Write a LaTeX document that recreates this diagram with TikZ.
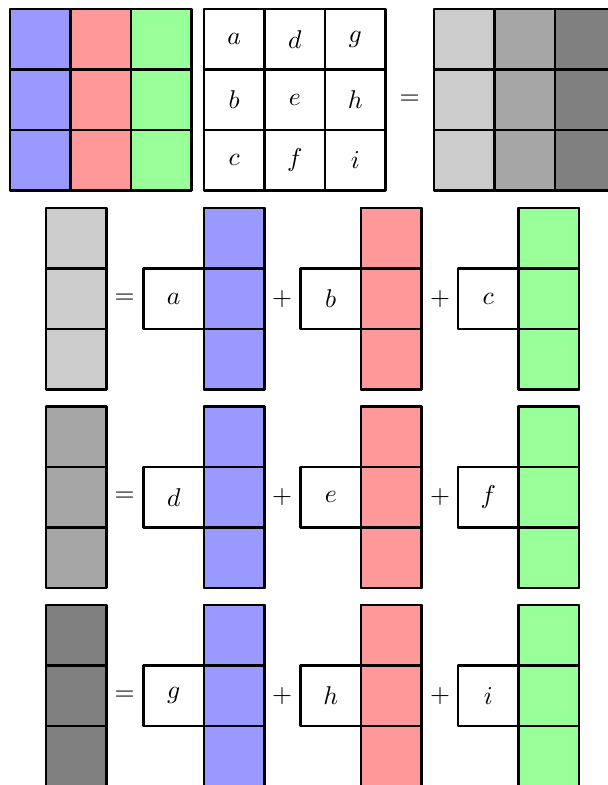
\documentclass[tikz,border=0pt]{standalone}
\definecolor{cblue}{HTML}{9999FF}
\definecolor{cred}{HTML}{FF9999}
\definecolor{cgreen}{HTML}{99FF99}
\definecolor{gone}{HTML}{CCCCCC}
\definecolor{gtwo}{HTML}{A6A6A6}
\definecolor{gthree}{HTML}{808080}
\begin{document}
\begin{tikzpicture}[x=0.389pt,y=-0.389pt,
  cell/.style={draw=black,thick,line join=round},
  lbl/.style={inner sep=0pt}]
\def\s{60.5}
\useasboundingbox (0,0) rectangle (608,785);
\clip (0,0) rectangle (608,785);
% ---- top row: colour matrix
\foreach \c/\col in {0/cblue,1/cred,2/cgreen}{
  \foreach \r in {0,1,2}{
    \draw[cell,fill=\col] ({10+\c*\s},{9+\r*\s}) rectangle ++(\s,\s);
  }
}
% ---- letter matrix
\foreach \c/\la/\lb/\lc in {0/a/b/c,1/d/e/f,2/g/h/i}{
  \foreach \r/\l in {0/\la,1/\lb,2/\lc}{
    \draw[cell,fill=white] ({204+\c*\s},{9+\r*\s}) rectangle ++(\s,\s);
    \node[lbl] (m\l) at ({204+\c*\s+\s/2},{9+\r*\s+\s/2}) {$\l$};
  }
}
\node[lbl] (eqtop) at (409.5,{9+1.5*\s}) {$=$};
% ---- result matrix
\foreach \c/\col in {0/gone,1/gtwo,2/gthree}{
  \foreach \r in {0,1,2}{
    \draw[cell,fill=\col] ({434+\c*\s},{9+\r*\s}) rectangle ++(\s,\s);
  }
}
% ---- three equation rows
\foreach \k/\g/\la/\lb/\lc in {0/gone/a/b/c,1/gtwo/d/e/f,2/gthree/g/h/i}{
  \pgfmathsetmacro\yo{208+\k*198.5}
  \foreach \r in {0,1,2}{
    \draw[cell,fill=\g] (46,{\yo+\r*\s}) rectangle ++(\s,\s);
    \draw[cell,fill=cblue] (204,{\yo+\r*\s}) rectangle ++(\s,\s);
    \draw[cell,fill=cred] (361,{\yo+\r*\s}) rectangle ++(\s,\s);
    \draw[cell,fill=cgreen] (518.5,{\yo+\r*\s}) rectangle ++(\s,\s);
  }
  \node[lbl] (eq\k) at (124.5,{\yo+1.5*\s}) {$=$};
  \node[lbl] (pa\k) at (282,{\yo+1.5*\s}) {$+$};
  \node[lbl] (pb\k) at (440,{\yo+1.5*\s}) {$+$};
  \draw[cell,fill=white] (143.5,{\yo+\s}) rectangle ++(\s,\s);
  \draw[cell,fill=white] (300.5,{\yo+\s}) rectangle ++(\s,\s);
  \draw[cell,fill=white] (458,{\yo+\s}) rectangle ++(\s,\s);
  \node[lbl] (ca\k) at ({143.5+\s/2},{\yo+1.5*\s}) {$\la$};
  \node[lbl] (cb\k) at ({300.5+\s/2},{\yo+1.5*\s}) {$\lb$};
  \node[lbl] (cc\k) at ({458+\s/2},{\yo+1.5*\s}) {$\lc$};
  % redraw the shared column edges on top
  \draw[cell] (204,\yo) rectangle ++(\s,{3*\s});
  \draw[cell] (361,\yo) rectangle ++(\s,{3*\s});
  \draw[cell] (518.5,\yo) rectangle ++(\s,{3*\s});
}
\end{tikzpicture}
\end{document}
